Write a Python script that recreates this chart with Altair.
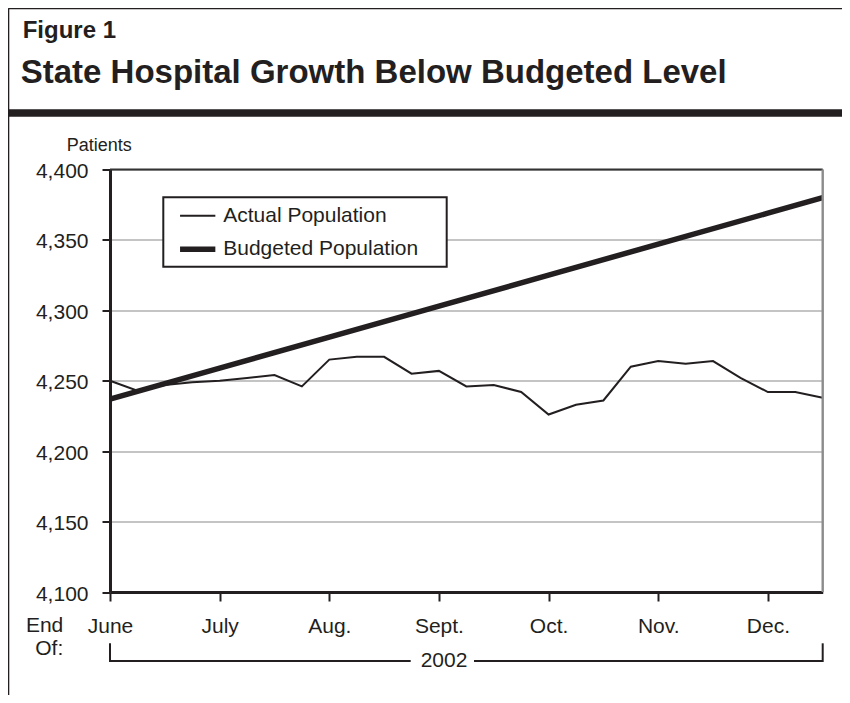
import altair as alt
import pandas as pd

# ---------------- data ----------------
months = ["June", "July", "Aug.", "Sept.", "Oct.", "Nov.", "Dec."]
series_names = ["Actual Population", "Budgeted Population"]
year_label = "2002"

# x = quarter-month steps from end of June (0) to mid-December (26)
actual_x = list(range(27))
actual_values = [4250, 4243, 4247, 4249, 4250, 4252, 4254, 4246, 4265, 4267,
                 4267, 4255, 4257, 4246, 4247, 4242, 4226, 4233, 4236, 4260,
                 4264, 4262, 4264, 4252, 4242, 4242, 4238]
budget_x = [0, 4, 8, 12, 16, 20, 24, 26]
budget_values = [4237, 4259, 4281, 4303, 4325, 4347, 4369, 4380]
y_ticks = [4100, 4150, 4200, 4250, 4300, 4350, 4400]
month_ticks = [0, 4, 8, 12, 16, 20, 24]

df = pd.DataFrame(
    {"x": actual_x + budget_x,
     "value": actual_values + budget_values,
     "series": [series_names[0]] * len(actual_x) + [series_names[1]] * len(budget_x)}
)

INK = "#231f20"
FONT = "Liberation Sans"
W, H = 712.7, 422.5

month_expr = "[" + ",".join("'%s'" % m for m in months) + "][round(datum.value/4)]"

lines = alt.Chart(df).mark_line(strokeJoin="miter").encode(
    x=alt.X("x:Q", scale=alt.Scale(domain=[0, 26], nice=False, zero=False),
            axis=alt.Axis(values=month_ticks, labelExpr=month_expr, title=None, grid=False,
                          tickSize=9, tickWidth=2, tickColor=INK, domainColor=INK,
                          domainWidth=3, labelFontSize=21, labelPadding=14,
                          labelColor=INK, labelFont=FONT, labelFlush=False)),
    y=alt.Y("value:Q", scale=alt.Scale(domain=[4100, 4400], nice=False, zero=False),
            axis=alt.Axis(values=y_ticks, format=",d", title=None, grid=True,
                          gridColor="#c4c4c4", gridWidth=2, tickSize=8, tickWidth=2,
                          tickColor=INK, domainColor=INK, domainWidth=3,
                          labelFontSize=21, labelPadding=14, labelColor=INK,
                          labelFont=FONT, labelOffset=2)),
    color=alt.Color("series:N", scale=alt.Scale(domain=series_names, range=[INK, INK]),
                    legend=alt.Legend(title=None, orient="none", legendX=67.2, legendY=27.3,
                                      symbolType="stroke", symbolSize=1246,
                                      labelFontSize=21, labelFont=FONT, labelColor=INK,
                                      labelOffset=5, rowPadding=3, padding=0,
                                      labelLimit=400)),
    strokeWidth=alt.StrokeWidth("series:N",
                                scale=alt.Scale(domain=series_names, range=[2, 5.5]),
                                legend=alt.Legend(title=None, orient="none", legendX=67.2,
                                                  legendY=27.3)),
)

one = pd.DataFrame({"k": [0]})

def rule(**enc):
    sw = enc.pop("sw", 2)
    col = enc.pop("col", INK)
    return alt.Chart(one).mark_rule(strokeWidth=sw, color=col).encode(**enc)

def text(s, x, y, size=21, weight="normal", align="left"):
    return alt.Chart(pd.DataFrame({"t": [s]})).mark_text(
        font=FONT, fontSize=size, fontWeight=weight, align=align, baseline="alphabetic",
        color=INK).encode(x=alt.value(x), y=alt.value(y), text="t:N")

# page frame (left edge, top edge, heavy header rule)
frame = [
    rule(x=alt.value(-101.7), y=alt.value(-161.2), y2=alt.value(540), sw=2),
    rule(x=alt.value(-101.7), x2=alt.value(740), y=alt.value(-161.2), sw=2),
    rule(x=alt.value(-101.7), x2=alt.value(740), y=alt.value(-56.5), sw=7.4),
]

legend_box = alt.Chart(one).mark_rect(fill="white", stroke=INK, strokeWidth=2).encode(
    x=alt.value(53.3), x2=alt.value(336.7), y=alt.value(27.8), y2=alt.value(97.2))

# plot frame: dark top edge, grey right edge
borders = [
    rule(x=alt.value(0), x2=alt.value(W), y=alt.value(0), sw=2, col="#333333"),
    rule(x=alt.value(W), y=alt.value(0), y2=alt.value(H), sw=2.4, col="#8c8c8c"),
]

# year bracket below the month labels (gap left for the year text)
bracket = [
    rule(x=alt.value(0), x2=alt.value(300.7), y=alt.value(491.5)),
    rule(x=alt.value(364), x2=alt.value(W), y=alt.value(491.5)),
    rule(x=alt.value(0), y=alt.value(473.8), y2=alt.value(492.5)),
    rule(x=alt.value(W), y=alt.value(473.8), y2=alt.value(492.5)),
]

texts = [
    text("Figure 1", -87.3, -131.2, size=24, weight="bold"),
    text("State Hospital Growth Below Budgeted Level", -89.3, -86.2, size=33, weight="bold"),
    text("Patients", -43.3, -18.8, size=18),
    text("End", -46.7, 462.2, align="right"),
    text("Of:", -46.7, 485.5, align="right"),
    text(year_label, 334, 497.2, align="center"),
]

chart = alt.layer(lines, *frame, legend_box, *borders, *bracket, *texts).properties(
    width=W, height=H,
    autosize=alt.AutoSizeParams(type="none"),
    padding={"left": 102, "top": 161.5, "right": 19.3, "bottom": 103},
).configure_view(stroke=None).configure(background="white")

chart.save("out.html", embed_options={"renderer": "svg", "actions": False})
